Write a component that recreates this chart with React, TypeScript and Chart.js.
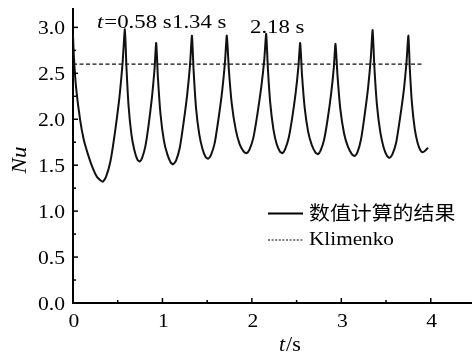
import React, { useEffect, useRef } from "react";
import { Chart, registerables } from "chart.js";

Chart.register(...registerables);

const timeS = [
  0, 0.01, 0.034, 0.08, 0.12, 0.17, 0.22, 0.27, 0.33,
  0.368, 0.418, 0.468, 0.518, 0.555, 0.58,
  0.597, 0.621, 0.654, 0.687, 0.72, 0.745,
  0.773, 0.81, 0.847, 0.884, 0.912, 0.93,
  0.949, 0.978, 1.016, 1.054, 1.092, 1.12,
  1.152, 1.194, 1.236, 1.278, 1.309, 1.33,
  1.348, 1.375, 1.411, 1.447, 1.483, 1.51,
  1.542, 1.584, 1.626, 1.668, 1.699, 1.72,
  1.742, 1.775, 1.819, 1.863, 1.907, 1.94,
  1.973, 2.017, 2.061, 2.105, 2.138, 2.16,
  2.178, 2.205, 2.241, 2.277, 2.313, 2.34,
  2.37, 2.41, 2.45, 2.49, 2.52, 2.54,
  2.56, 2.59, 2.63, 2.67, 2.71, 2.74,
  2.769, 2.808, 2.847, 2.886, 2.916, 2.935,
  2.957, 2.989, 3.032, 3.075, 3.118, 3.15,
  3.18, 3.22, 3.26, 3.3, 3.33, 3.35,
  3.369, 3.398, 3.436, 3.474, 3.512, 3.54,
  3.572, 3.614, 3.656, 3.698, 3.729, 3.75,
  3.766, 3.79, 3.822, 3.854, 3.886, 3.91,
  3.94, 3.97,
];

const nuNumeric = [
  2.92, 2.68, 2.35, 1.99, 1.78, 1.61, 1.47, 1.37, 1.32,
  1.37, 1.54, 1.85, 2.23, 2.62, 2.98,
  2.58, 2.15, 1.83, 1.66, 1.56, 1.54,
  1.58, 1.71, 1.95, 2.25, 2.55, 2.83,
  2.46, 2.06, 1.77, 1.62, 1.53, 1.51,
  1.55, 1.69, 1.96, 2.28, 2.6, 2.91,
  2.54, 2.13, 1.84, 1.68, 1.59, 1.57,
  1.61, 1.74, 2.0, 2.31, 2.62, 2.91,
  2.55, 2.17, 1.89, 1.73, 1.65, 1.63,
  1.67, 1.8, 2.05, 2.35, 2.64, 2.93,
  2.57, 2.18, 1.89, 1.73, 1.65, 1.63,
  1.67, 1.79, 2.01, 2.29, 2.57, 2.83,
  2.49, 2.13, 1.86, 1.72, 1.64, 1.62,
  1.66, 1.78, 2.0, 2.28, 2.56, 2.82,
  2.48, 2.11, 1.84, 1.7, 1.62, 1.6,
  1.64, 1.78, 2.04, 2.35, 2.67, 2.97,
  2.58, 2.16, 1.86, 1.69, 1.6, 1.58,
  1.62, 1.75, 2.01, 2.31, 2.62, 2.91,
  2.55, 2.17, 1.89, 1.74, 1.66, 1.64,
  1.66, 1.69,
];

const klimenkoT = [0, 3.92];
const klimenkoNu = [2.6, 2.6];

const xTicks = [0, 1, 2, 3, 4];
const xMinorTicks = [0.5, 1.5, 2.5, 3.5];
const yTicks = [0, 0.5, 1.0, 1.5, 2.0, 2.5, 3.0];
const yMinorTicks = [0.25, 0.75, 1.25, 1.75, 2.25, 2.75];

const legendLabels = ["数值计算的结果", "Klimenko"];
const noteTexts = ["0.58 s", "1.34 s", "2.18 s"];

const SERIF = '"Liberation Serif", "DejaVu Serif", serif';
const CJK = '"Noto Sans CJK SC", sans-serif';
const SX = 1.2;

// draw text with a horizontal stretch; returns drawn width
function txt(
  ctx: CanvasRenderingContext2D,
  s: string,
  x: number,
  y: number,
  font: string,
  align: "left" | "center" | "right" = "left",
  sx = SX
) {
  ctx.save();
  ctx.font = font;
  const w = ctx.measureText(s).width * sx;
  let left = x;
  if (align === "center") left = x - w / 2;
  if (align === "right") left = x - w;
  ctx.translate(left, y);
  ctx.scale(sx, 1);
  ctx.textAlign = "left";
  ctx.fillText(s, 0, 0);
  ctx.restore();
  return w;
}

const overlay = {
  id: "overlay",
  afterDraw(chart: any) {
    const ctx = chart.ctx as CanvasRenderingContext2D;
    const xs = chart.scales.x;
    const ys = chart.scales.y;
    const x0 = xs.getPixelForValue(0);
    const y0 = ys.getPixelForValue(0);
    ctx.save();
    ctx.strokeStyle = "#000";
    ctx.fillStyle = "#000";
    ctx.lineWidth = 1.5;
    const seg = (x1: number, y1: number, x2: number, y2: number) => {
      ctx.beginPath();
      ctx.moveTo(x1, y1);
      ctx.lineTo(x2, y2);
      ctx.stroke();
    };
    xTicks.forEach((v) => { const p = xs.getPixelForValue(v); seg(p, y0, p, y0 - 5); });
    xMinorTicks.forEach((v) => { const p = xs.getPixelForValue(v); seg(p, y0, p, y0 - 3); });
    yTicks.forEach((v) => { const p = ys.getPixelForValue(v); seg(x0, p, x0 + 5, p); });
    yMinorTicks.forEach((v) => { const p = ys.getPixelForValue(v); seg(x0, p, x0 + 3, p); });

    // tick labels
    ctx.textBaseline = "middle";
    const tickFont = `18px ${SERIF}`;
    yTicks.forEach((v) => {
      txt(ctx, v.toFixed(1), x0 - 8, ys.getPixelForValue(v) + 2, tickFont, "right");
    });
    xTicks.forEach((v) => {
      txt(ctx, String(v), xs.getPixelForValue(v) + 1, 322, tickFont, "center");
    });

    // peak annotations
    ctx.textBaseline = "alphabetic";
    const nf = `19px ${SERIF}`;
    const nfi = `italic 19px ${SERIF}`;
    let x = 97;
    x += txt(ctx, "t", x, 28, nfi);
    x += txt(ctx, "=", x + 1, 28, nf) + 1;
    txt(ctx, noteTexts[0], x, 28, nf);
    txt(ctx, noteTexts[1], 172, 28, nf);
    txt(ctx, noteTexts[2], 250, 33, nf);

    // legend
    ctx.lineWidth = 1.8;
    seg(268, 213.5, 303, 213.5);
    ctx.lineWidth = 1.2;
    ctx.setLineDash([2, 1.6]);
    seg(268, 240, 303, 240);
    ctx.setLineDash([]);
    ctx.textBaseline = "middle";
    txt(ctx, legendLabels[0], 309, 213, `19px ${CJK}`, "left", 1.1);
    txt(ctx, legendLabels[1], 309, 240, `18px ${SERIF}`, "left", 1.18);

    // axis titles
    ctx.textBaseline = "alphabetic";
    const tf = `20px ${SERIF}`;
    const tfi = `italic 20px ${SERIF}`;
    let tx = 279;
    tx += txt(ctx, "t", tx, 351, tfi, "left", 1.1);
    txt(ctx, "/s", tx + 1, 351, tf, "left", 1.1);

    ctx.translate(20, 160);
    ctx.rotate(-Math.PI / 2);
    ctx.textBaseline = "middle";
    txt(ctx, "Nu", 0, 0, `italic 21px ${SERIF}`, "center", 1.1);
    ctx.restore();
  },
};

export default function App() {
  const ref = useRef<HTMLCanvasElement>(null);
  useEffect(() => {
    document.body.style.margin = "0";
    const canvas = ref.current!;
    const chart = new Chart(canvas, {
      type: "line",
      data: {
        datasets: [
          {
            label: legendLabels[0],
            data: timeS.map((t, i) => ({ x: t, y: nuNumeric[i] })),
            borderColor: "#111",
            borderWidth: 2,
            pointRadius: 0,
            tension: 0.2,
            fill: false,
          },
          {
            label: legendLabels[1],
            data: klimenkoT.map((t, i) => ({ x: t, y: klimenkoNu[i] })),
            borderColor: "#111",
            borderWidth: 1.3,
            borderDash: [4, 2.5],
            pointRadius: 0,
            tension: 0,
            fill: false,
          },
        ],
      },
      options: {
        animation: false,
        responsive: false,
        maintainAspectRatio: false,
        layout: { padding: { top: 9, right: 2, left: 0, bottom: 0 } },
        plugins: { legend: { display: false }, tooltip: { enabled: false } },
        scales: {
          x: {
            type: "linear",
            min: 0,
            max: 4.45,
            afterBuildTicks: (s: any) => { s.ticks = xTicks.map((v) => ({ value: v })); },
            afterFit: (s: any) => { s.height = 51; },
            grid: { display: false, drawTicks: false },
            border: { display: true, color: "#000", width: 2 },
            ticks: { display: false },
          },
          y: {
            type: "linear",
            min: 0,
            max: 3.2,
            afterBuildTicks: (s: any) => { s.ticks = yTicks.map((v) => ({ value: v })); },
            afterFit: (s: any) => { s.width = 73; },
            grid: { display: false, drawTicks: false },
            border: { display: true, color: "#000", width: 2 },
            ticks: { display: false },
          },
        },
      },
      plugins: [overlay],
    });
    return () => chart.destroy();
  }, []);
  return <canvas ref={ref} width={473} height={354} style={{ display: "block" }} />;
}
